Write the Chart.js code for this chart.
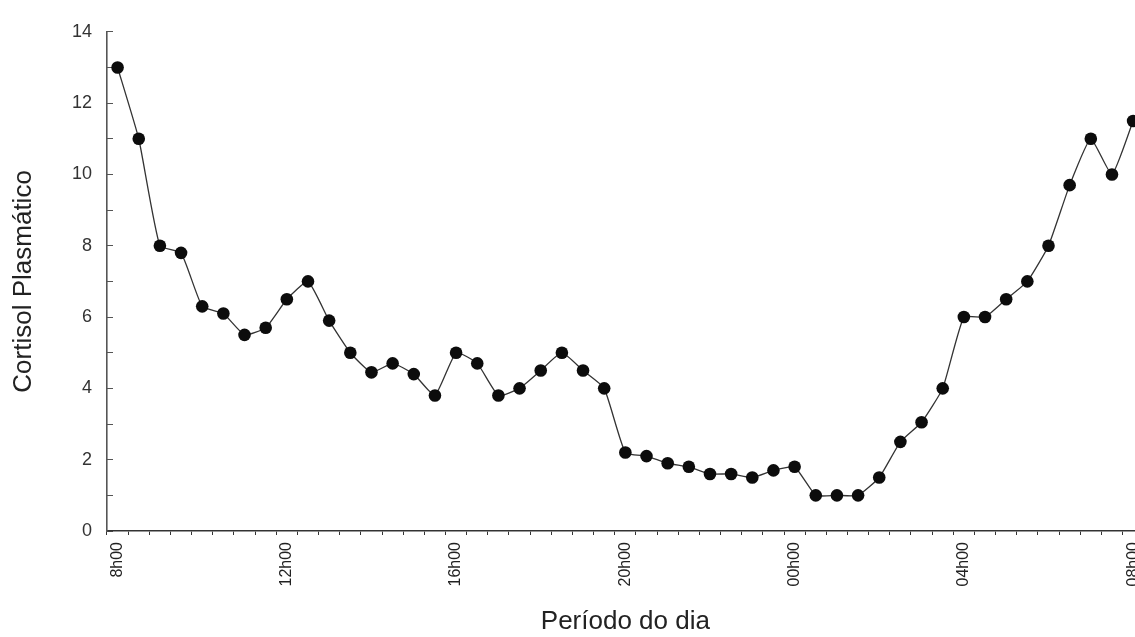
<!DOCTYPE html>
<html>
<head>
<meta charset="utf-8">
<script src="https://cdn.jsdelivr.net/npm/chart.js@4/dist/chart.umd.min.js"></script>
<style>
  html, body { margin: 0; padding: 0; background: #fff; overflow: hidden; }
  #wrap { width: 1135px; height: 637px; overflow: hidden; position: relative; }
  canvas { display: block; }
</style>
</head>
<body>
<div id="wrap"><canvas id="c" width="1150" height="637"></canvas></div>
<script>
// Half-hourly sampling times (categories)
const categories = [
  "8h00","8h30","9h00","9h30","10h00","10h30","11h00","11h30",
  "12h00","12h30","13h00","13h30","14h00","14h30","15h00","15h30",
  "16h00","16h30","17h00","17h30","18h00","18h30","19h00","19h30",
  "20h00","20h30","21h00","21h30","22h00","22h30","23h00","23h30",
  "00h00","00h30","01h00","01h30","02h00","02h30","03h00","03h30",
  "04h00","04h30","05h00","05h30","06h00","06h30","07h00","07h30",
  "08h00"
];
// Plasma cortisol values
const cortisol = [
  13.0, 11.0, 8.0, 7.8, 6.3, 6.1, 5.5, 5.7,
  6.5, 7.0, 5.9, 5.0, 4.45, 4.7, 4.4, 3.8,
  5.0, 4.7, 3.8, 4.0, 4.5, 5.0, 4.5, 4.0,
  2.2, 2.1, 1.9, 1.8, 1.6, 1.6, 1.5, 1.7,
  1.8, 1.0, 1.0, 1.0, 1.5, 2.5, 3.05, 4.0,
  6.0, 6.0, 6.5, 7.0, 8.0, 9.7, 11.0, 10.0,
  11.5
];
// Labelled x ticks
const xTickLabels = ["8h00","12h00","16h00","20h00","00h00","04h00","08h00"];
// Labelled y ticks
const yTickLabels = [0, 2, 4, 6, 8, 10, 12, 14];

const FONT = "'Liberation Sans', Arial, sans-serif";

new Chart(document.getElementById('c'), {
  type: 'line',
  data: {
    labels: categories,
    datasets: [{
      data: cortisol,
      borderColor: '#333',
      borderWidth: 1.3,
      tension: 0.15,
      pointRadius: 6.3,
      pointBackgroundColor: '#0c0c0c',
      pointBorderColor: '#0c0c0c',
      pointBorderWidth: 0,
      clip: false
    }]
  },
  options: {
    responsive: false,
    animation: false,
    events: [],
    layout: { padding: { top: 28, left: 0, right: 0, bottom: 0 } },
    plugins: { legend: { display: false }, tooltip: { enabled: false } },
    scales: {
      x: {
        type: 'category',
        offset: true,
        grid: {
          offset: true,
          drawOnChartArea: false,
          drawTicks: true,
          tickLength: 4,
          color: '#333',
          lineWidth: 1
        },
        border: { display: true, color: '#333', width: 1.6 },
        ticks: {
          autoSkip: false,
          minRotation: 90,
          maxRotation: 90,
          padding: 7,
          color: '#222',
          font: { family: FONT, size: 16 },
          callback: function(v, i) {
            const lab = this.getLabelForValue(v);
            return xTickLabels.includes(lab) ? lab : '';
          }
        },
        title: {
          display: true,
          text: 'Período do dia',
          color: '#222',
          font: { family: FONT, size: 26 },
          padding: { top: 0, bottom: 0 }
        },
        afterFit: function(scale) {
          scale.height = 106;
          scale.paddingLeft = 0;
          scale.paddingRight = 0;
        }
      },
      y: {
        min: 0,
        max: 14,
        grid: {
          drawOnChartArea: false,
          drawTicks: true,
          tickLength: -6,
          color: '#555',
          lineWidth: 1
        },
        border: { display: true, color: '#555', width: 1.6 },
        ticks: {
          stepSize: 1,
          padding: 21,
          color: '#333',
          font: { family: FONT, size: 18 },
          callback: function(v) { return yTickLabels.includes(v) ? String(v) : ''; }
        },
        title: {
          display: true,
          text: 'Cortisol Plasmático',
          color: '#222',
          font: { family: FONT, size: 26 },
          padding: { top: 8, bottom: 0 }
        },
        afterFit: function(scale) { scale.width = 107; }
      }
    }
  }
});
</script>
</body>
</html>
